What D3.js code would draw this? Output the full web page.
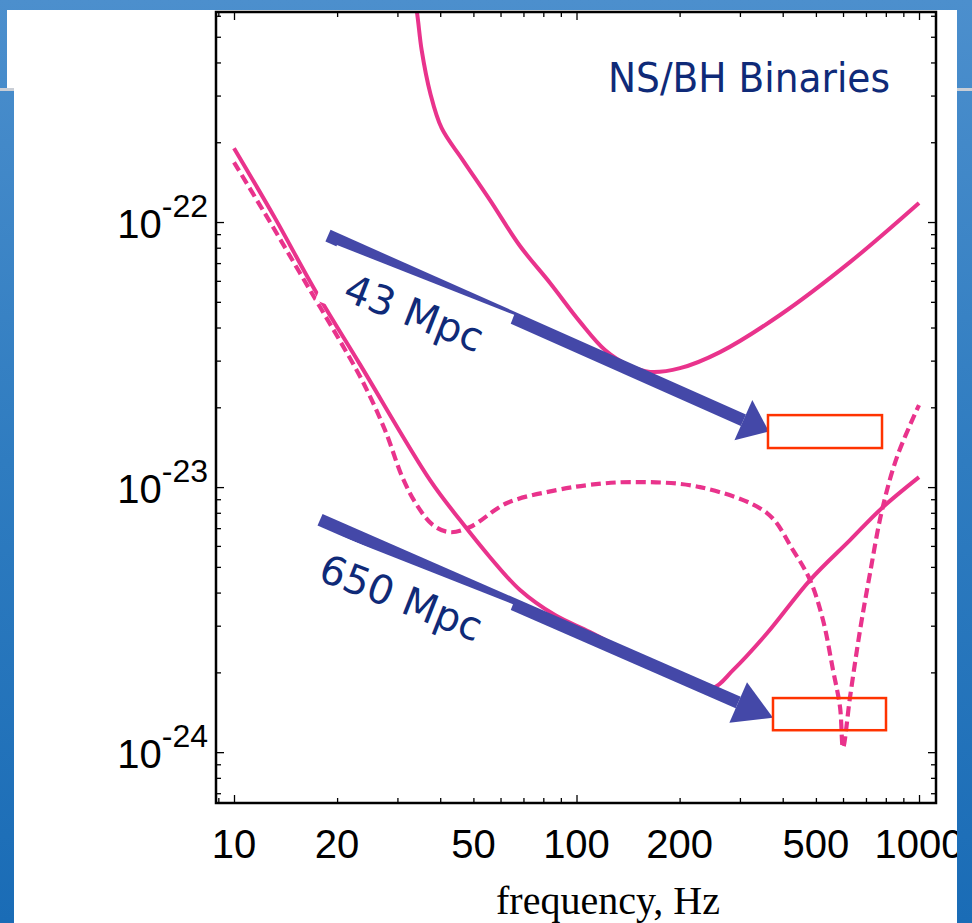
<!DOCTYPE html>
<html>
<head>
<meta charset="utf-8">
<script src="https://cdn.jsdelivr.net/npm/d3@7"></script>
<style>
  html, body { margin: 0; padding: 0; background: #2a78bd; }
  svg { display: block; }
</style>
</head>
<body>
<svg id="chart" width="972" height="923"></svg>
<script>
// ---- Noise curves: frequency (Hz) and strain sensitivity (1/sqrt(Hz)) ----
const freqInitial   = [33.0, 34.2, 35.3, 37.4, 40.4, 46.6, 55.9, 68.4, 83.7, 102.4, 121.1, 143.3, 163.9, 200.5, 262.4, 392.8, 628.8, 1000];
const strainInitial = [8.0e-22, 6.2e-22, 4.46e-22, 3.07e-22, 2.26e-22, 1.71e-22, 1.21e-22, 8.12e-23, 5.89e-23, 4.20e-23, 3.29e-23, 2.86e-23, 2.72e-23, 2.81e-23, 3.23e-23, 4.46e-23, 7.06e-23, 1.18e-22];

const freqAdvanced   = [10, 13.2, 17.24, 23.3, 37.4, 45.7, 55.9, 68.4, 86.5, 109.5, 153.2, 214.5, 250.3, 286.4, 359.9, 480.7, 628.8, 779.8, 1000];
const strainAdvanced = [1.90e-22, 1.03e-22, 5.53e-23, 2.91e-23, 1.06e-23, 7.51e-24, 5.44e-24, 4.09e-24, 3.29e-24, 2.84e-24, 2.26e-24, 1.84e-24, 1.75e-24, 2.04e-24, 2.81e-24, 4.46e-24, 6.31e-24, 8.34e-24, 1.09e-23];

const freqNarrow   = [10, 12.74, 15.58, 17.83, 20.39, 23.8, 27.6, 31.1, 34.2, 38.1, 42.7, 48.9, 62.7, 87.7, 109.5, 146.2, 229.4, 359.9, 428.7, 480.7, 524.4, 561, 588, 600, 628.8, 672.6, 719.3, 779.8, 862.6, 1000];
const strainNarrow = [1.68e-22, 1.0e-22, 6.42e-23, 4.78e-23, 3.56e-23, 2.49e-23, 1.64e-23, 1.08e-23, 8.55e-24, 7.19e-24, 6.76e-24, 7.07e-24, 8.71e-24, 9.75e-24, 1.02e-23, 1.045e-23, 1.0e-23, 7.98e-24, 5.78e-24, 4.46e-24, 3.15e-24, 2.04e-24, 1.48e-24, 1.04e-24, 1.61e-24, 2.88e-24, 4.73e-24, 8.18e-24, 1.30e-23, 2.04e-23];

// ---- Axis ticks ----
const xTickValues = [10, 20, 50, 100, 200, 500, 1000];
const xTickLabels = ["10", "20", "50", "100", "200", "500", "1000"];
const xMajorTicks = [10, 100, 1000];
const xMinorTicks = [9, 20, 30, 40, 50, 60, 70, 80, 90, 200, 300, 400, 500, 600, 700, 800, 900];
const yTickValues = [1e-22, 1e-23, 1e-24];
const yTickExponents = ["-22", "-23", "-24"];
const yMinorTicks = [7e-25, 8e-25, 9e-25,
  2e-24, 3e-24, 4e-24, 5e-24, 6e-24, 7e-24, 8e-24, 9e-24,
  2e-23, 3e-23, 4e-23, 5e-23, 6e-23, 7e-23, 8e-23, 9e-23,
  2e-22, 3e-22, 4e-22, 5e-22, 6e-22];

// ---- Range annotations: arrow start / tip (Hz, strain), label, target box corners ----
const rangeLabels      = ["43 Mpc", "650 Mpc"];
const arrowStartFreq   = [18.81, 17.83];
const arrowStartStrain = [8.887e-23, 7.53e-24];
const arrowTipFreq     = [364.7, 374.7];
const arrowTipStrain   = [1.62e-23, 1.349e-24];
const labelCornerFreq   = [19.98, 16.9];
const labelCornerStrain = [8.19e-23, 7.19e-24];
const boxFreqLo   = [362.3, 374.7];
const boxFreqHi   = [779.8, 801.0];
const boxStrainHi = [1.869e-23, 1.60e-24];
const boxStrainLo = [1.404e-23, 1.21e-24];

const title = "NS/BH Binaries";
const xAxisTitle = "frequency, Hz";

// ---- Layout ----
const W = 972, H = 923;
const plot = { left: 216, right: 936, top: 12, bottom: 803 };
const PINK = "#e9338c", ARROW = "#4448a8", NAVY = "#0f2a78", RED = "#ff3300";

const svg = d3.select("#chart");

const x = d3.scaleLog().domain([8.86, 1121]).range([plot.left, plot.right]);
const y = d3.scaleLog().domain([6.43e-25, 6.2e-22]).range([plot.bottom, plot.top]);

// Slide background
const defs = svg.append("defs");
const grad = defs.append("linearGradient").attr("id", "sky")
  .attr("gradientUnits", "userSpaceOnUse")
  .attr("x1", 0).attr("y1", 0).attr("x2", 0).attr("y2", H);
grad.append("stop").attr("offset", "0%").attr("stop-color", "#4c8fcd");
grad.append("stop").attr("offset", "50%").attr("stop-color", "#2f7cc0");
grad.append("stop").attr("offset", "100%").attr("stop-color", "#1a6cb6");
svg.append("rect").attr("width", W).attr("height", H).attr("fill", "url(#sky)");

svg.append("rect").attr("x", 14).attr("y", 10).attr("width", 943).attr("height", H - 10).attr("fill", "#fff");
svg.append("rect").attr("x", 7).attr("y", 10).attr("width", 8).attr("height", 78).attr("fill", "#fff");
svg.append("rect").attr("x", 0).attr("y", 88).attr("width", 14).attr("height", 3).attr("fill", "#c9ced6");

defs.append("clipPath").attr("id", "plotClip")
  .append("rect").attr("x", plot.left).attr("y", plot.top)
  .attr("width", plot.right - plot.left).attr("height", plot.bottom - plot.top);

// Curves
const line = d3.line()
  .x(d => x(d[0]))
  .y(d => y(d[1]))
  .curve(d3.curveCatmullRom.alpha(0.5));

const curves = svg.append("g").attr("clip-path", "url(#plotClip)")
  .attr("fill", "none").attr("stroke", PINK).attr("stroke-width", 4);

curves.append("path").attr("d", line(d3.zip(freqInitial, strainInitial)));
curves.append("path").attr("d", line(d3.zip(freqAdvanced, strainAdvanced)));
curves.append("path").attr("d", line(d3.zip(freqNarrow, strainNarrow)))
  .attr("stroke-dasharray", "10,5").attr("stroke-width", 4.2);

// Ticks on all four sides, pointing inward
function ticks(axis, values, len, tx, ty) {
  svg.append("g").attr("transform", `translate(${tx},${ty})`)
    .call(axis.tickValues(values).tickSize(-len).tickFormat(""))
    .call(g => g.select(".domain").remove())
    .call(g => g.selectAll("line").attr("stroke", "#000").attr("stroke-width", 1.3));
}
ticks(d3.axisBottom(x), xMajorTicks, 8, 0, plot.bottom);
ticks(d3.axisBottom(x), xMinorTicks, 5, 0, plot.bottom);
ticks(d3.axisTop(x), xMajorTicks, 8, 0, plot.top);
ticks(d3.axisTop(x), xMinorTicks, 5, 0, plot.top);
ticks(d3.axisLeft(y), yTickValues, 8, plot.left, 0);
ticks(d3.axisLeft(y), yMinorTicks, 5, plot.left, 0);
ticks(d3.axisRight(y), yTickValues, 8, plot.right, 0);
ticks(d3.axisRight(y), yMinorTicks, 5, plot.right, 0);

// Frame
svg.append("rect").attr("x", plot.left).attr("y", plot.top)
  .attr("width", plot.right - plot.left).attr("height", plot.bottom - plot.top)
  .attr("fill", "none").attr("stroke", "#000").attr("stroke-width", 2.5);

// Tick labels
svg.append("g").selectAll("text").data(xTickValues).join("text")
  .attr("x", d => x(d)).attr("y", 858)
  .attr("text-anchor", "middle")
  .attr("font-family", "'Liberation Sans', Arial, sans-serif")
  .attr("font-size", 40).attr("fill", "#000")
  .text((d, i) => xTickLabels[i]);

const yl = svg.append("g").selectAll("text").data(yTickValues).join("text")
  .attr("x", 208).attr("y", d => y(d) + 16)
  .attr("text-anchor", "end")
  .attr("font-family", "'Liberation Sans', Arial, sans-serif")
  .attr("font-size", 40).attr("fill", "#000");
yl.append("tspan").text("10");
yl.append("tspan").attr("dy", -21).attr("font-size", 32).text((d, i) => yTickExponents[i]);

svg.append("text").attr("x", 608).attr("y", 914)
  .attr("text-anchor", "middle")
  .attr("font-family", "'Liberation Serif', 'Times New Roman', serif")
  .attr("font-size", 40).attr("fill", "#000")
  .text(xAxisTitle);

// Range arrows, their rotated labels and the target boxes
const ann = svg.append("g");
const headLens = [28, 38], headHalf = 22, shaftHalf = 6.3;
rangeLabels.forEach((label, i) => {
  const x0 = x(arrowStartFreq[i]), y0 = y(arrowStartStrain[i]);
  const x1 = x(arrowTipFreq[i]), y1 = y(arrowTipStrain[i]);
  const len = Math.hypot(x1 - x0, y1 - y0);
  const ux = (x1 - x0) / len, uy = (y1 - y0) / len;
  const px = -uy, py = ux;
  const bx = x1 - ux * headLens[i], by = y1 - uy * headLens[i];
  const shaft = [
    [x0 + px * shaftHalf, y0 + py * shaftHalf], [bx + px * shaftHalf, by + py * shaftHalf],
    [bx - px * shaftHalf, by - py * shaftHalf], [x0 - px * shaftHalf, y0 - py * shaftHalf]];
  const head = [[bx + px * headHalf, by + py * headHalf], [x1, y1], [bx - px * headHalf, by - py * headHalf]];
  ann.append("polygon").attr("points", shaft.map(p => p.join(",")).join(" ")).attr("fill", ARROW);
  ann.append("polygon").attr("points", head.map(p => p.join(",")).join(" ")).attr("fill", ARROW);

  const g = ann.append("g")
    .attr("transform", `translate(${x(labelCornerFreq[i])},${y(labelCornerStrain[i])}) rotate(21.5)`);
  const box = g.append("rect").attr("fill", "#fff").attr("height", 59);
  const t = g.append("text").attr("x", 24).attr("y", 49)
    .attr("font-family", "'DejaVu Sans', Verdana, sans-serif")
    .attr("font-size", 40).attr("fill", NAVY).text(label);
  box.attr("width", 24 + t.node().getComputedTextLength() + 21);

  ann.append("rect")
    .attr("x", x(boxFreqLo[i])).attr("y", y(boxStrainHi[i]))
    .attr("width", x(boxFreqHi[i]) - x(boxFreqLo[i]))
    .attr("height", y(boxStrainLo[i]) - y(boxStrainHi[i]))
    .attr("fill", "none").attr("stroke", RED).attr("stroke-width", 2.5);
});

// Title
svg.append("text").attr("x", 608).attr("y", 92)
  .attr("font-family", "'DejaVu Sans', Verdana, sans-serif")
  .attr("font-size", 40).attr("fill", NAVY)
  .attr("textLength", 282).attr("lengthAdjust", "spacingAndGlyphs")
  .text(title);

// Right slide margin sits over the end of the last tick label
svg.append("rect").attr("x", 957).attr("y", 0).attr("width", W - 957).attr("height", H).attr("fill", "url(#sky)");
svg.append("rect").attr("x", 957).attr("y", 88).attr("width", W - 957).attr("height", 3).attr("fill", "#c9ced6");
</script>
</body>
</html>
